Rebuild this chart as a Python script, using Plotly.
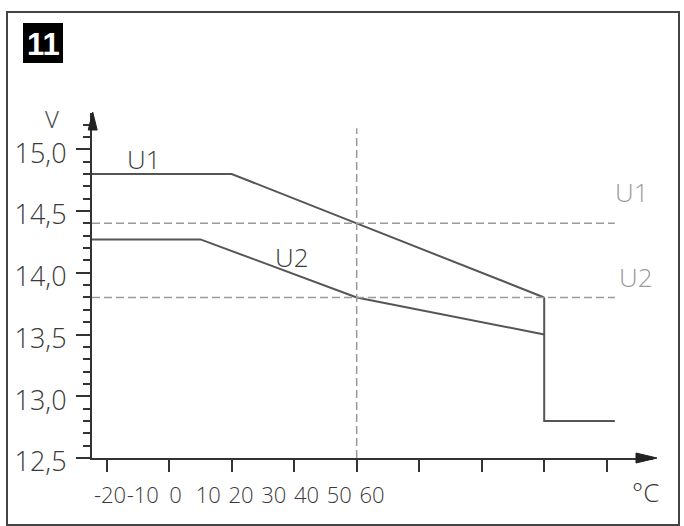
import plotly.graph_objects as go

W, H = 684, 526

# ---------------- data ----------------
# x positions are in "tick units" of the temperature axis (one unit per drawn tick)
x_ticks = [0, 1, 2, 3, 4, 5, 6, 7, 8]
x_start = -0.235          # where the curves leave the y axis
x_end = 8.13              # right end of the low branch / reference lines

u1_x = [x_start, 2, 4, 7]
u1_y = [14.8, 14.8, 14.4, 13.8]

u2_x = [x_start, 1.5, 4, 7]
u2_y = [14.27, 14.27, 13.8, 13.5]

cut_x = [7, 7, x_end]
cut_y = [13.8, 12.8, 12.8]

ref_u1 = 14.4
ref_u2 = 13.8
ref_x = 4
ref_top = 15.17

y_major = [12.5, 13.0, 13.5, 14.0, 14.5, 15.0]
y_major_text = ["12,5", "13,0", "13,5", "14,0", "14,5", "15,0"]

temp_vals = [-20, -10, 0, 10, 20, 30, 40, 50, 60]
temp_text = ["-20", "-10", "0", "10", "20", "30", "40", "50", "60"]

# ---------------- helpers ----------------
def px(x):
    return x / W

def py(y):
    return 1 - y / H

FONT = "Open Sans"
DARK = "#3a3a3a"
LINE = "#555555"
REF = "#9a9a9a"

fig = go.Figure()

fig.add_trace(go.Scatter(x=u1_x, y=u1_y, mode="lines",
                         line=dict(color=LINE, width=2), showlegend=False, hoverinfo="skip"))
fig.add_trace(go.Scatter(x=u2_x, y=u2_y, mode="lines",
                         line=dict(color=LINE, width=2), showlegend=False, hoverinfo="skip"))
fig.add_trace(go.Scatter(x=cut_x, y=cut_y, mode="lines",
                         line=dict(color=LINE, width=2), showlegend=False, hoverinfo="skip"))

# reference dashed lines
for yv in (ref_u1, ref_u2):
    fig.add_trace(go.Scatter(x=[x_start, x_end], y=[yv, yv], mode="lines",
                             line=dict(color=REF, width=1.5, dash="8px,4px"),
                             showlegend=False, hoverinfo="skip"))
fig.add_trace(go.Scatter(x=[ref_x, ref_x], y=[12.5, ref_top], mode="lines",
                         line=dict(color=REF, width=1.5, dash="8px,4px"),
                         showlegend=False, hoverinfo="skip"))

# invisible trace for the label axis
fig.add_trace(go.Scatter(x=[temp_vals[0]], y=[13.0], xaxis="x2", mode="markers",
                         marker=dict(opacity=0), showlegend=False, hoverinfo="skip"))

x_dom = [px(92), px(653)]
y_dom = [py(458), py(113)]

fig.update_layout(
    template="none",
    width=W, height=H,
    margin=dict(l=0, r=0, t=0, b=0, pad=0),
    paper_bgcolor="white", plot_bgcolor="white",
    xaxis=dict(domain=x_dom, range=[(92 - 106.7) / 62.5, (653 - 106.7) / 62.5], automargin=False,
               showgrid=False, zeroline=False, showline=True, linecolor="#333333", linewidth=2,
               tickmode="array", tickvals=x_ticks, ticks="outside", ticklen=12, tickwidth=2,
               tickcolor="#333333", showticklabels=False, fixedrange=True),
    xaxis2=dict(domain=x_dom, overlaying="x", anchor="y", side="bottom", automargin=False,
                range=[-20 - 18 / 3.275, -20 + 543 / 3.275],
                showgrid=False, zeroline=False, showline=False, ticks="",
                tickmode="array", tickvals=temp_vals, ticktext=temp_text, tickangle=0,
                ticklabelstandoff=22,
                tickfont=dict(family=FONT, size=22, color=DARK, weight=300)),
    yaxis=dict(domain=y_dom, range=[12.5, 12.5 + (458 - 113) / 123.5], automargin=False,
               showgrid=False, zeroline=False, showline=True, linecolor="#333333", linewidth=2,
               tickmode="array", tickvals=y_major, ticktext=y_major_text,
               ticks="outside", ticklen=14, tickwidth=2, tickcolor="#333333",
               minor=dict(dtick=0.1, tick0=12.5, ticks="outside", ticklen=7, tickwidth=2,
                          tickcolor="#333333"),
               ticklabelshift=4, ticklabelstandoff=4,
               tickfont=dict(family=FONT, size=27, color=DARK, weight=300), fixedrange=True),
)

# axis arrowheads
ax_x = 92.7
fig.add_shape(type="path", xref="paper", yref="paper",
              path=f"M {px(ax_x)},{py(112)} L {px(ax_x-4.5)},{py(130)} L {px(ax_x+4.5)},{py(130)} Z",
              fillcolor="#222222", line=dict(color="#222222", width=1))
fig.add_shape(type="path", xref="paper", yref="paper",
              path=f"M {px(657)},{py(458)} L {px(636)},{py(453)} L {px(636)},{py(463)} Z",
              fillcolor="#222222", line=dict(color="#222222", width=1))

# outer frame
fig.add_shape(type="rect", xref="paper", yref="paper",
              x0=px(7), x1=px(679), y0=py(525), y1=py(12),
              line=dict(color="#444444", width=2))
# figure number box
fig.add_shape(type="rect", xref="paper", yref="paper",
              x0=px(23), x1=px(63), y0=py(63), y1=py(23),
              fillcolor="black", line=dict(color="black", width=0))

def note(text, x, y, size, color=DARK, family=FONT, weight=300):
    fig.add_annotation(text=text, x=px(x), y=py(y), xref="paper", yref="paper",
                       showarrow=False, xanchor="center", yanchor="middle",
                       font=dict(family=family, size=size, color=color, weight=weight))

note("11", 43, 44, 31, color="white", family="Liberation Sans", weight="bold")
note("V", 52, 118, 24)
note("U1", 144, 159, 26)
note("U2", 292, 257, 26)
note("U1", 632, 192, 26, color=REF)
note("U2", 636, 277, 26, color=REF)
note("°C", 645, 492, 26)

fig.write_html("out.html", config={"displayModeBar": False, "staticPlot": True},
               post_script="document.body.style.margin='0';document.body.style.overflow='hidden';")
